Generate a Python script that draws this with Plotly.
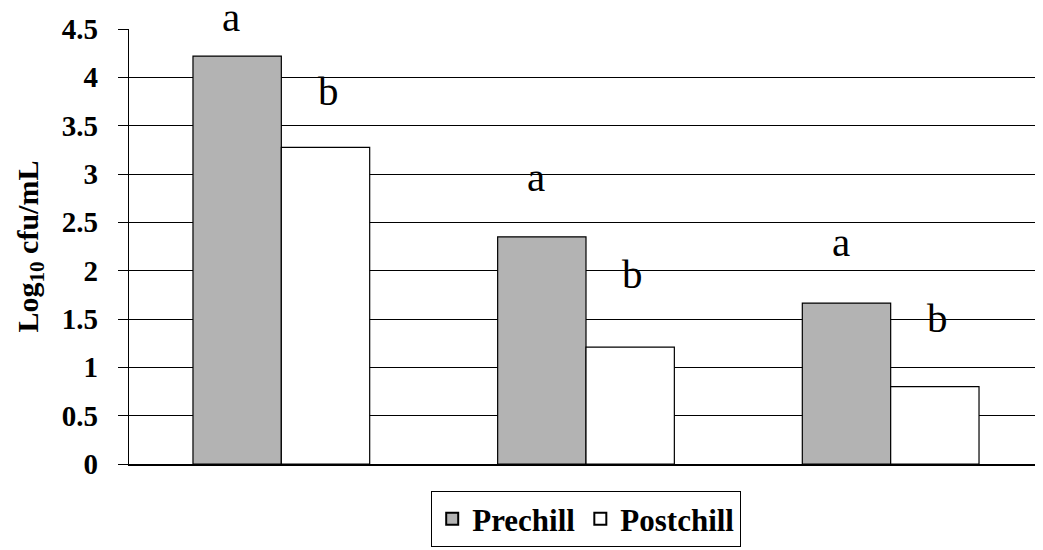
import plotly.graph_objects as go

categories = ["1", "2", "3"]
prechill = [4.22, 2.35, 1.665]
postchill = [3.275, 1.21, 0.80]
prechill_letters = ["a", "a", "a"]
postchill_letters = ["b", "b", "b"]
# baseline heights (log10 cfu/mL) where the significance letters sit
prechill_letter_y = [4.47, 2.81, 2.14]
postchill_letter_y = [3.70, 1.81, 1.36]
y_ticks = [0, 0.5, 1, 1.5, 2, 2.5, 3, 3.5, 4, 4.5]
y_tick_text = ["0", "0.5", "1", "1.5", "2", "2.5", "3", "3.5", "4", "4.5"]

FONT = "Liberation Serif"

fig = go.Figure()
fig.add_trace(go.Bar(x=categories, y=prechill, name="<b>Prechill</b>",
                     marker=dict(color="#b3b3b3", line=dict(color="black", width=1.2))))
fig.add_trace(go.Bar(x=categories, y=postchill, name="<b>Postchill</b>",
                     marker=dict(color="white", line=dict(color="black", width=1.2))))

bar_off = 0.144
for i in range(len(categories)):
    fig.add_annotation(x=i - bar_off - 0.02, y=prechill_letter_y[i], text=prechill_letters[i],
                       showarrow=False, xref="x", yref="y", yanchor="bottom", yshift=-10,
                       font=dict(family=FONT, size=41, color="black"))
    fig.add_annotation(x=i + bar_off + 0.01, y=postchill_letter_y[i], text=postchill_letters[i],
                       showarrow=False, xref="x", yref="y", yanchor="bottom", yshift=-10,
                       font=dict(family=FONT, size=41, color="black"))

# page has an 8px body margin, so the figure is 8px smaller than the window
fig.update_layout(
    width=1035, height=542,
    margin=dict(l=121, r=0, t=21, b=86, autoexpand=False),
    paper_bgcolor="white", plot_bgcolor="white",
    barmode="group", bargap=0.42, bargroupgap=0,
    font=dict(family=FONT, color="black"),
    showlegend=True,
    legend=dict(orientation="h", x=0.5, xanchor="center", y=-0.062, yanchor="top",
                bordercolor="black", borderwidth=1.2, bgcolor="white",
                font=dict(family=FONT, size=31, color="black"),
                itemsizing="constant", tracegroupgap=0),
    xaxis=dict(type="category", showticklabels=False, ticks="", showgrid=False,
               showline=True, linecolor="black", linewidth=1.5, range=[-0.5, 2.5],
               zeroline=False),
    yaxis=dict(range=[0, 4.5], tickvals=y_ticks, ticktext=["<b>%s</b>" % t for t in y_tick_text],
               showgrid=True, gridcolor="black", gridwidth=1.2,
               showline=True, linecolor="black", linewidth=1.2,
               ticks="outside", ticklen=10, tickcolor="black", tickwidth=1.2,
               ticklabelstandoff=14, zeroline=False,
               tickfont=dict(family=FONT, size=29, color="black"),
               title=dict(text="<b>Log<sub>10</sub> cfu/mL</b>", standoff=14,
                          font=dict(family=FONT, size=30, color="black"))),
)

fig.write_html("out.html")
